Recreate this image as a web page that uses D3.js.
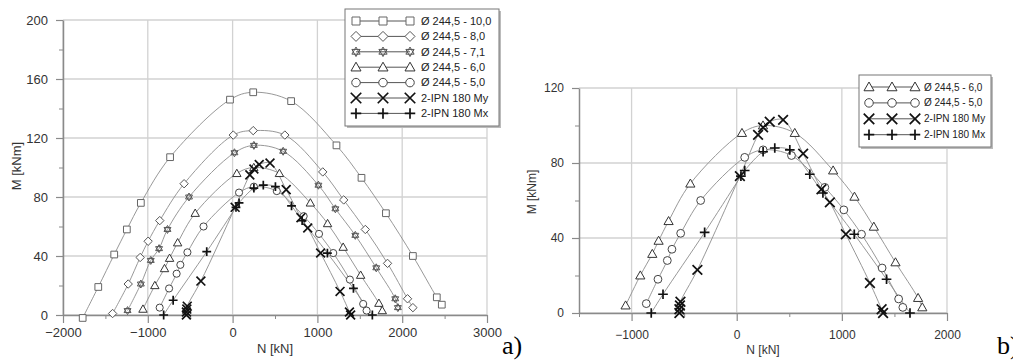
<!DOCTYPE html>
<html>
<head>
<meta charset="utf-8">
<script src="https://cdn.jsdelivr.net/npm/d3@7"></script>
<style>
  body { margin: 0; background: #fff; }
  svg { display: block; font-family: "Liberation Sans", Arial, sans-serif; }
</style>
</head>
<body>
<svg id="chart" width="1013" height="362"></svg>
<script>
// ---- data (N [kN], M [kNm]) ----
const seriesNames = ["Ø 244,5 - 10,0", "Ø 244,5 - 8,0", "Ø 244,5 - 7,1", "Ø 244,5 - 6,0",
                     "Ø 244,5 - 5,0", "2-IPN 180 My", "2-IPN 180 Mx"];

const tube10_0 = [[-1768,-2],[-1584,19],[-1396,41],[-1247,58],[-1082,76],[-737,107],[-31,146],
                  [243,151],[690,145],[1225,115],[1520,93],[1808,69],[2126,40],[2408,12],[2467,7]];
const tube8_0 = [[-1415,1],[-1231,21],[-1090,39],[-996,50],[-859,64],[-572,89],[8,122],[243,125],
                 [616,122],[1063,97],[1310,78],[1565,58],[1827,35],[2063,11],[2126,5]];
const tube7_1 = [[-1239,3],[-1082,21],[-965,37],[-867,45],[-768,58],[-514,80],[22,110],[251,115],
                 [596,111],[1012,88],[1212,72],[1447,54],[1694,32],[1918,11],[1949,5]];
const tube6_0 = [[-1057,4],[-917,20],[-803,31.5],[-743,38.5],[-648,49],[-441,69],[50,96],[250,100],
                 [552,96],[917,76],[1120,62],[1304,46],[1510,27],[1725,8],[1765,3]];
const tube5_0 = [[-860,5],[-749,18],[-660,28],[-616,34],[-533,42.5],[-343,60],[76,83],[251,87],
                 [521,84],[838,67],[1019,55],[1187,42],[1383,24],[1540,7.5],[1580,3]];
const ipnMy = [[-545,0],[-545,2],[-540,4],[-535,6],[-374,23],[30,73],[203,95],[251,99],[314,102],
               [441,103],[632,85],[806,66],[886,59],[1038,42],[1267,16],[1378,2],[1392,0]];
const ipnMx = [[-813,0],[-701,10],[-305,43],[40,73],[76,76],[251,86],[362,88],[505,87],[695,74],
               [820,64],[1118,42],[1425,18],[1648,0]];

const allSeries = [tube10_0, tube8_0, tube7_1, tube6_0, tube5_0, ipnMy, ipnMx];

const xTicksA = [-2000, -1000, 0, 1000, 2000, 3000];
const yTicksA = [0, 40, 80, 120, 160, 200];
const xTicksB = [-1000, 0, 1000, 2000];
const yTicksB = [0, 40, 80, 120];

// ---- styles ----
const markType = ["square", "diamond", "hexagram", "triangle", "circle", "cross", "plus"];
const markColor = ["#666", "#555", "#555", "#333", "#444", "#111", "#111"];

const svg = d3.select("#chart");

function markerPath(type, x, y, r) {
  if (type === "square") return `M${x-r*0.8},${y-r*0.8}h${r*1.6}v${r*1.6}h${-r*1.6}Z`;
  if (type === "diamond") return `M${x},${y-r}L${x+r},${y}L${x},${y+r}L${x-r},${y}Z`;
  if (type === "triangle") return `M${x},${y-r}L${x+r},${y+r*0.75}L${x-r},${y+r*0.75}Z`;
  if (type === "cross") return `M${x-r},${y-r}L${x+r},${y+r}M${x-r},${y+r}L${x+r},${y-r}`;
  if (type === "plus") return `M${x-r},${y}H${x+r}M${x},${y-r}V${y+r}`;
  if (type === "hexagram") {
    const rr = r * 0.95;
    const tri = a0 => d3.range(3).map(i => {
      const a = (a0 + i * 120) * Math.PI / 180;
      return [x + rr * Math.cos(a), y + rr * Math.sin(a)];
    });
    const up = tri(-90), dn = tri(90);
    return "M" + up.join("L") + "Z" + "M" + dn.join("L") + "Z";
  }
  return "";
}

function drawMarker(g, i, x, y, r) {
  const t = markType[i];
  if (t === "circle") {
    g.append("circle").attr("cx", x).attr("cy", y).attr("r", r * 0.85)
      .attr("fill", "#fff").attr("stroke", markColor[i]).attr("stroke-width", 1);
  } else if (t === "cross" || t === "plus") {
    g.append("path").attr("d", markerPath(t, x, y, r * 1.05))
      .attr("fill", "none").attr("stroke", markColor[i]).attr("stroke-width", 1.7);
  } else {
    g.append("path").attr("d", markerPath(t, x, y, r))
      .attr("fill", t === "hexagram" ? "none" : "#fff")
      .attr("stroke", markColor[i]).attr("stroke-width", 1);
  }
}

function drawPanel(cfg) {
  const x = d3.scaleLinear().domain(cfg.xDomain).range([cfg.left, cfg.right]);
  const y = d3.scaleLinear().domain(cfg.yDomain).range([cfg.bottom, cfg.top]);
  const g = svg.append("g");

  // grid
  g.append("g").selectAll("line").data(cfg.xTicks).join("line")
    .attr("x1", d => x(d)).attr("x2", d => x(d))
    .attr("y1", cfg.top).attr("y2", cfg.bottom)
    .attr("stroke", "#d2d2d2").attr("stroke-width", 1.3);
  g.append("g").selectAll("line").data(cfg.yTicks).join("line")
    .attr("x1", cfg.left).attr("x2", cfg.right)
    .attr("y1", d => y(d)).attr("y2", d => y(d))
    .attr("stroke", "#d2d2d2").attr("stroke-width", 1.3);

  // minor ticks (midpoints between the majors)
  const xMinor = d3.range(cfg.xDomain[0], cfg.xDomain[1] + 1, cfg.xStep / 2).filter(v => !cfg.xTicks.includes(v));
  const yMinor = d3.range(cfg.yDomain[0], cfg.yDomain[1] + 1, cfg.yStep / 2).filter(v => !cfg.yTicks.includes(v));

  const styleAxis = a => {
    a.select(".domain").attr("stroke", "#8a8a8a").attr("stroke-width", 1.5);
    a.selectAll(".tick line").attr("stroke", "#8a8a8a").attr("stroke-width", 1.2);
    a.selectAll(".tick text").attr("fill", "#333").attr("font-size", cfg.tickFont)
      .attr("font-family", "'Liberation Sans', Arial, sans-serif");
  };

  g.append("g").attr("transform", `translate(0,${cfg.bottom})`)
    .call(d3.axisBottom(x).tickValues(xMinor).tickSize(4).tickFormat("").tickSizeOuter(0))
    .call(a => a.select(".domain").remove())
    .call(a => a.selectAll(".tick line").attr("stroke", "#8a8a8a"));
  g.append("g").attr("transform", `translate(${cfg.left},0)`)
    .call(d3.axisLeft(y).tickValues(yMinor).tickSize(4).tickFormat("").tickSizeOuter(0))
    .call(a => a.select(".domain").remove())
    .call(a => a.selectAll(".tick line").attr("stroke", "#8a8a8a"));

  g.append("g").attr("transform", `translate(0,${cfg.bottom})`)
    .call(d3.axisBottom(x).tickValues(cfg.xTicks).tickSize(8).tickPadding(cfg.xPad).tickSizeOuter(0).tickFormat(d3.format("d")))
    .call(styleAxis);
  g.append("g").attr("transform", `translate(${cfg.left},0)`)
    .call(d3.axisLeft(y).tickValues(cfg.yTicks).tickSize(7).tickPadding(cfg.yPad).tickSizeOuter(0).tickFormat(d3.format("d")))
    .call(styleAxis);

  // axis titles
  g.append("text").attr("x", (cfg.left + cfg.right) / 2).attr("y", cfg.xTitleY)
    .attr("text-anchor", "middle").attr("font-size", cfg.tickFont).attr("fill", "#333").text("N [kN]");
  g.append("text").attr("transform", `translate(${cfg.yTitleX},${cfg.yTitleY}) rotate(-90)`)
    .attr("text-anchor", "middle").attr("font-size", cfg.tickFont).attr("fill", "#333").text("M [kNm]");

  // series
  const line = d3.line().x(d => x(d[0])).y(d => y(d[1])).curve(d3.curveCatmullRom.alpha(0.5));
  cfg.series.forEach(i => {
    g.append("path").datum(allSeries[i]).attr("d", line)
      .attr("fill", "none").attr("stroke", "#8c8c8c").attr("stroke-width", 0.9);
  });
  cfg.series.forEach(i => {
    const mg = g.append("g");
    allSeries[i].forEach(d => drawMarker(mg, i, x(d[0]), y(d[1]), cfg.mark));
  });

  // legend
  const L = cfg.legend;
  g.append("rect").attr("x", L.x + 2).attr("y", L.y + 2).attr("width", L.w).attr("height", L.h)
    .attr("fill", "#bbb");
  g.append("rect").attr("x", L.x).attr("y", L.y).attr("width", L.w).attr("height", L.h)
    .attr("fill", "#fff").attr("stroke", "#777").attr("stroke-width", 1);
  cfg.series.forEach((i, k) => {
    const ry = L.row0 + k * L.step;
    g.append("line").attr("x1", L.sx[0]).attr("x2", L.sx[2]).attr("y1", ry).attr("y2", ry)
      .attr("stroke", "#555").attr("stroke-width", 1);
    L.sx.forEach(sx => drawMarker(g, i, sx, ry, L.mark));
    g.append("text").attr("x", L.tx).attr("y", ry).attr("dy", "0.35em")
      .attr("font-size", L.font).attr("fill", "#222").text(seriesNames[i]);
  });

  // panel letter
  g.append("text").attr("x", cfg.letterX).attr("y", 354)
    .attr("font-family", "'Liberation Serif', 'Times New Roman', serif")
    .attr("font-size", 26).attr("fill", "#000").text(cfg.letter);
}

drawPanel({
  left: 63, right: 487, top: 20, bottom: 315,
  xDomain: [-2000, 3000], yDomain: [0, 200], xStep: 1000, yStep: 40,
  xTicks: xTicksA, yTicks: yTicksA, tickFont: 13, xPad: 5, yPad: 8,
  xTitleY: 353, yTitleX: 21, yTitleY: 166, mark: 4.2,
  series: [0, 1, 2, 3, 4, 5, 6],
  legend: { x: 345, y: 9, w: 154, h: 117, row0: 21, step: 15.4, sx: [356, 383, 410], tx: 421, font: 11, mark: 5 },
  letter: "a)", letterX: 502
});

drawPanel({
  left: 579, right: 947, top: 88, bottom: 313,
  xDomain: [-1500, 2000], yDomain: [0, 120], xStep: 1000, yStep: 40,
  xTicks: xTicksB, yTicks: yTicksB, tickFont: 12, xPad: 9, yPad: 8,
  xTitleY: 354, yTitleX: 536, yTitleY: 192, mark: 4.6,
  series: [3, 4, 5, 6],
  legend: { x: 859, y: 75, w: 132, h: 72, row0: 87, step: 15.9, sx: [869, 892, 915], tx: 924, font: 10, mark: 5 },
  letter: "b)", letterX: 997
});
</script>
</body>
</html>
